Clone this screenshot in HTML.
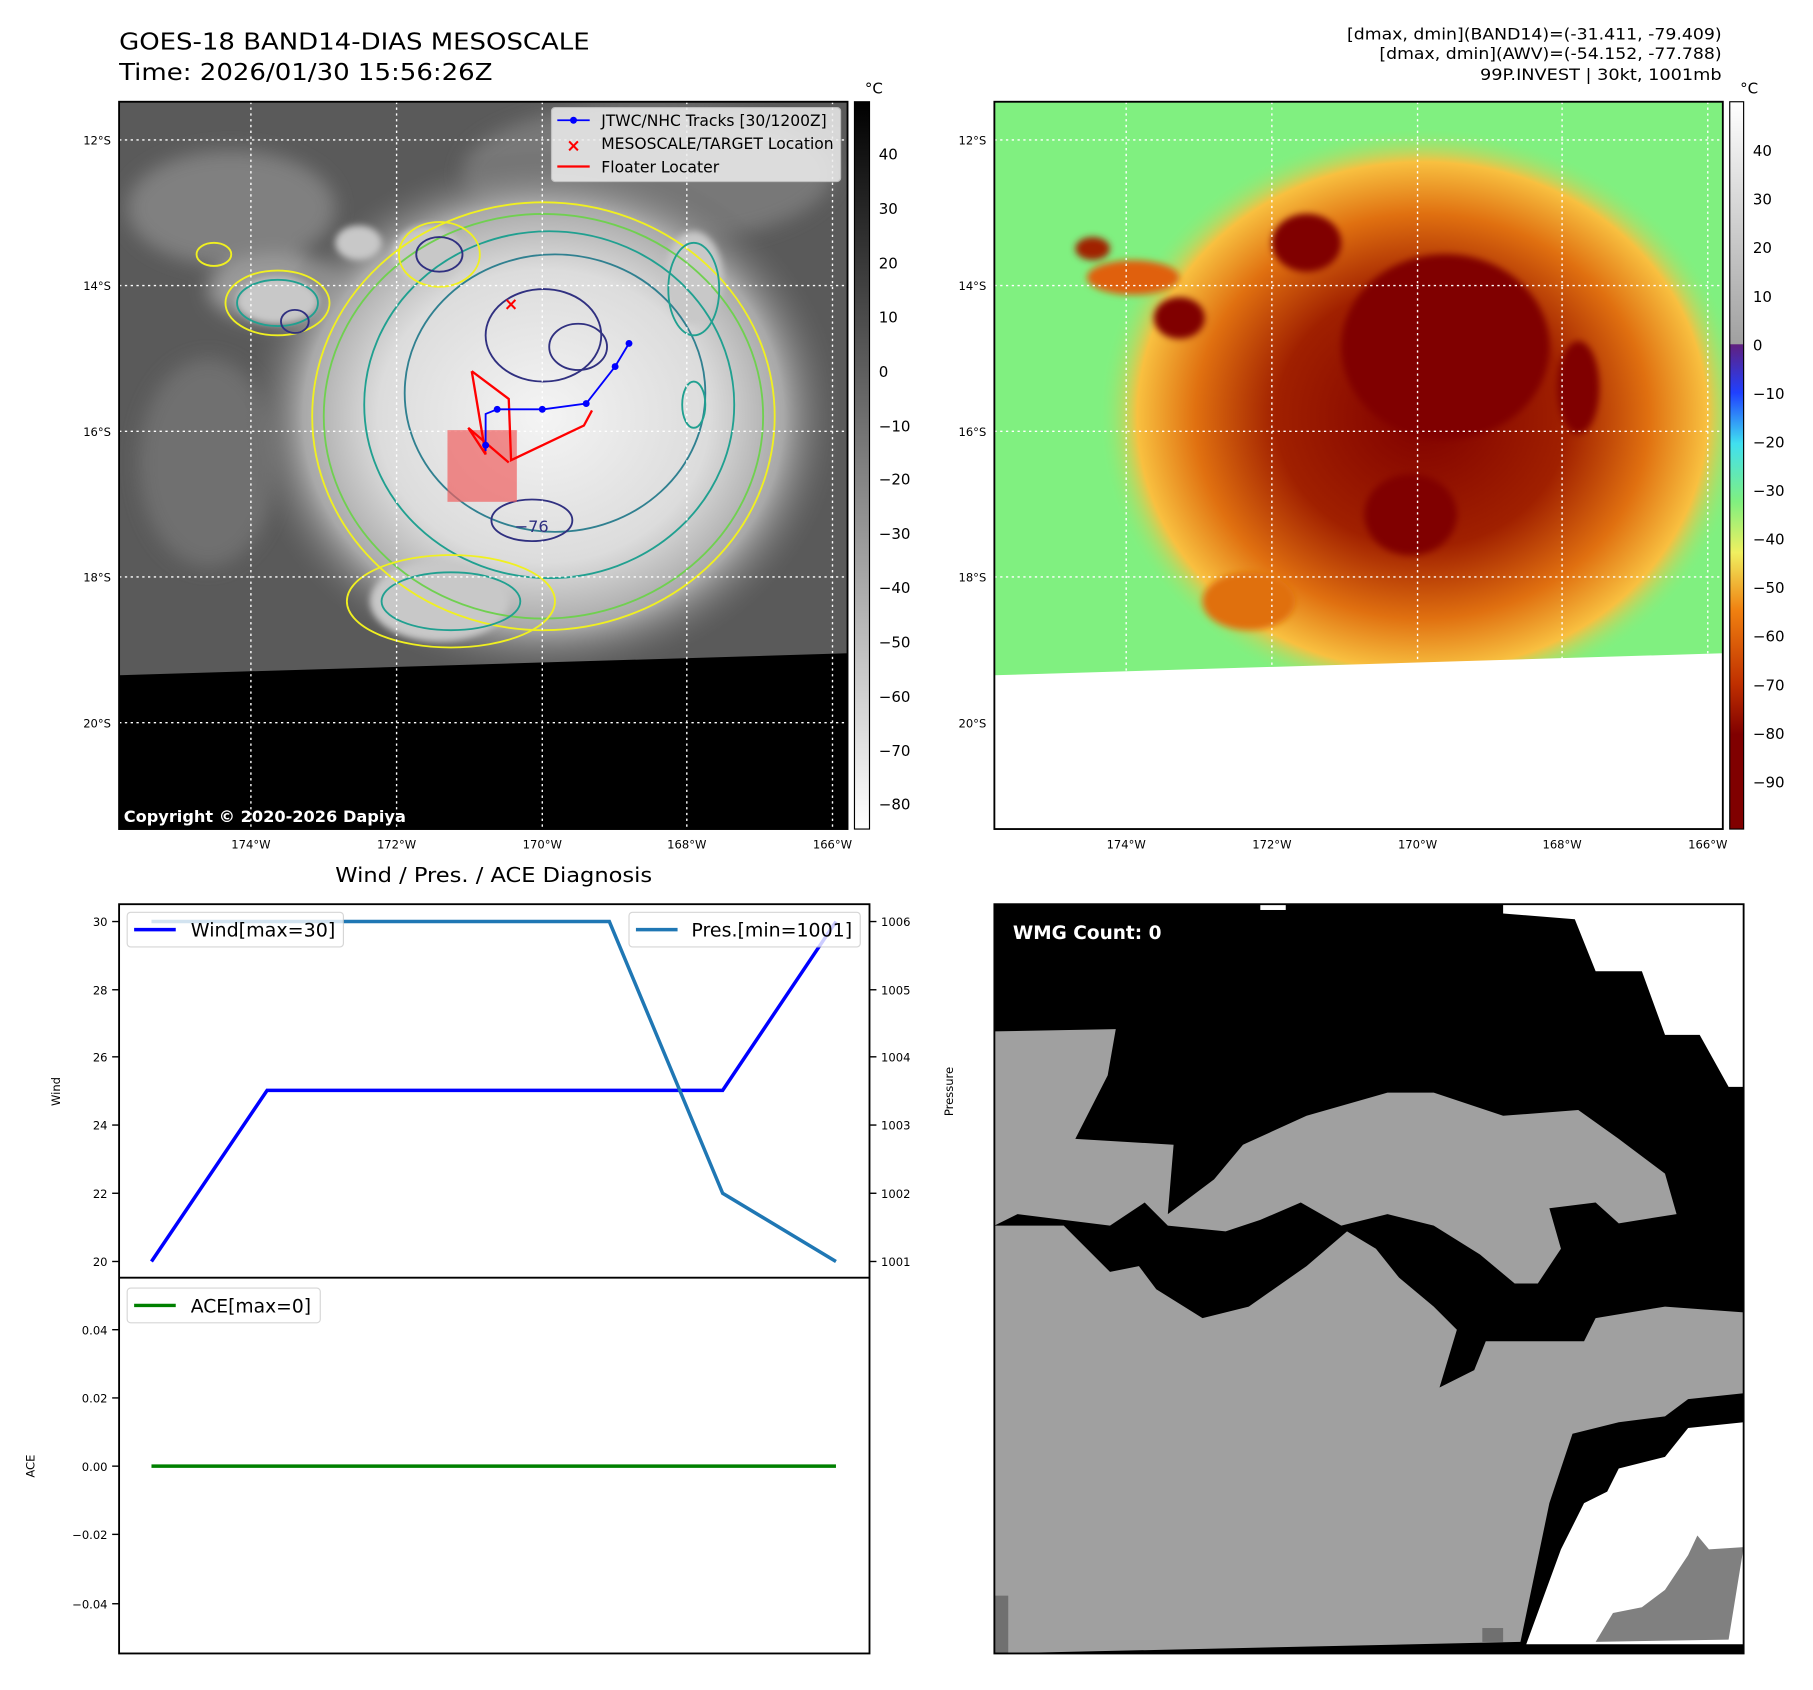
<!DOCTYPE html>
<html><head><meta charset="utf-8"><style>
html,body{margin:0;padding:0;background:#fff}
svg{display:block}
text{font-family:"DejaVu Sans","Liberation Sans",sans-serif}
</style></head><body>
<svg width="1813" height="1690" viewBox="0 0 1568 1461.6" preserveAspectRatio="none" xmlns="http://www.w3.org/2000/svg">
<defs>
<linearGradient id="cbg" x1="0" y1="0" x2="0" y2="1"><stop offset="0" stop-color="#000"/><stop offset="1" stop-color="#fff"/></linearGradient>
<linearGradient id="cbc" x1="0" y1="0" x2="0" y2="1">
<stop offset="0" stop-color="#fff"/><stop offset="0.333" stop-color="#a0a0a0"/>
<stop offset="0.334" stop-color="#602080"/><stop offset="0.40" stop-color="#2040ff"/>
<stop offset="0.47" stop-color="#40e0f0"/><stop offset="0.55" stop-color="#80f080"/>
<stop offset="0.62" stop-color="#f0f060"/><stop offset="0.70" stop-color="#f08010"/>
<stop offset="0.80" stop-color="#c03000"/><stop offset="0.87" stop-color="#800000"/><stop offset="1" stop-color="#800000"/></linearGradient>
<radialGradient id="cl" cx="0.5" cy="0.5" r="0.5"><stop offset="0" stop-color="#f4f4f4"/><stop offset="0.55" stop-color="#dcdcdc"/><stop offset="0.8" stop-color="#a8a8a8"/><stop offset="1" stop-color="#606060" stop-opacity="0"/></radialGradient>
<radialGradient id="co" cx="0.5" cy="0.5" r="0.5"><stop offset="0" stop-color="#800000"/><stop offset="0.45" stop-color="#a02000"/><stop offset="0.7" stop-color="#e07010"/><stop offset="0.88" stop-color="#f8c040"/><stop offset="1" stop-color="#80f080" stop-opacity="0"/></radialGradient>
<filter id="b3"><feGaussianBlur stdDeviation="3"/></filter>
<filter id="b8"><feGaussianBlur stdDeviation="8"/></filter>
<clipPath id="c1"><rect x="103" y="88" width="630" height="629"/></clipPath>
<clipPath id="c2"><rect x="860" y="88" width="630" height="629"/></clipPath>
</defs>

<!-- titles -->
<text x="103" y="43" font-size="20" textLength="407" lengthAdjust="spacingAndGlyphs">GOES-18 BAND14-DIAS MESOSCALE</text>
<text x="103" y="69" font-size="20" textLength="323" lengthAdjust="spacingAndGlyphs">Time: 2026/01/30 15:56:26Z</text>
<text x="1489" y="34" font-size="13.5" text-anchor="end" textLength="324" lengthAdjust="spacingAndGlyphs">[dmax, dmin](BAND14)=(-31.411, -79.409)</text>
<text x="1489" y="51" font-size="13.5" text-anchor="end" textLength="296" lengthAdjust="spacingAndGlyphs">[dmax, dmin](AWV)=(-54.152, -77.788)</text>
<text x="1489" y="69" font-size="13.5" text-anchor="end" textLength="209" lengthAdjust="spacingAndGlyphs">99P.INVEST | 30kt, 1001mb</text>

<!-- LEFT MAP -->
<g clip-path="url(#c1)">
<rect x="103" y="88" width="630" height="629" fill="#5a5a5a"/>
<g filter="url(#b8)">
<ellipse cx="200" cy="180" rx="90" ry="50" fill="#808080"/>
<ellipse cx="180" cy="400" rx="60" ry="90" fill="#707070"/>
<ellipse cx="560" cy="150" rx="160" ry="60" fill="#787878"/>
<ellipse cx="240" cy="250" rx="60" ry="30" fill="#9a9a9a"/>
</g>
<ellipse cx="470" cy="360" rx="260" ry="230" fill="url(#cl)"/>
<g filter="url(#b3)" fill="#c8c8c8">
<ellipse cx="370" cy="220" rx="30" ry="25"/><ellipse cx="310" cy="210" rx="20" ry="15"/>
<ellipse cx="240" cy="260" rx="35" ry="20"/><ellipse cx="600" cy="240" rx="25" ry="40"/>
<ellipse cx="380" cy="520" rx="60" ry="35"/>
</g>
<g fill="none" stroke-width="1.6">
<ellipse cx="470" cy="360" rx="200" ry="185" stroke="#f0f020"/>
<ellipse cx="470" cy="360" rx="190" ry="175" stroke="#70d050"/>
<ellipse cx="475" cy="350" rx="160" ry="150" stroke="#20a090"/>
<ellipse cx="480" cy="340" rx="130" ry="120" stroke="#308090"/>
<ellipse cx="240" cy="262" rx="45" ry="28" stroke="#f0f020"/>
<ellipse cx="240" cy="262" rx="35" ry="20" stroke="#20a090"/>
<ellipse cx="255" cy="278" rx="12" ry="10" stroke="#303080"/>
<ellipse cx="380" cy="220" rx="35" ry="28" stroke="#f0f020"/>
<ellipse cx="380" cy="220" rx="20" ry="15" stroke="#303080"/>
<ellipse cx="185" cy="220" rx="15" ry="10" stroke="#f0f020"/>
<ellipse cx="390" cy="520" rx="90" ry="40" stroke="#f0f020"/>
<ellipse cx="390" cy="520" rx="60" ry="25" stroke="#20a090"/>
<ellipse cx="600" cy="250" rx="22" ry="40" stroke="#20a090"/>
<ellipse cx="600" cy="350" rx="10" ry="20" stroke="#20a090"/>
<ellipse cx="470" cy="290" rx="50" ry="40" stroke="#303080"/>
<ellipse cx="460" cy="450" rx="35" ry="18" stroke="#303080"/>
<ellipse cx="500" cy="300" rx="25" ry="20" stroke="#303080"/>
</g>
<polygon points="103,584 733,565 733,717 103,717" fill="#000"/>
<g stroke="#fff" stroke-width="1.2" stroke-dasharray="2,3" fill="none">
<line x1="103" y1="121" x2="733" y2="121"/><line x1="103" y1="247" x2="733" y2="247"/>
<line x1="103" y1="373" x2="733" y2="373"/><line x1="103" y1="499" x2="733" y2="499"/>
<line x1="103" y1="625" x2="733" y2="625"/>
<line x1="217" y1="88" x2="217" y2="717"/><line x1="343" y1="88" x2="343" y2="717"/>
<line x1="469" y1="88" x2="469" y2="717"/><line x1="594" y1="88" x2="594" y2="717"/>
<line x1="720" y1="88" x2="720" y2="717"/>
</g>
<rect x="387" y="372" width="60" height="62" fill="#f06060" opacity="0.7"/>
<polyline points="408,321 440,345 442,398 505,368 512,355" fill="none" stroke="#f00" stroke-width="2"/>
<polyline points="408,321 420,393 405,370 440,400" fill="none" stroke="#f00" stroke-width="2"/>
<polyline points="420,390 420,358 430,354 470,354 507,349 532,317 544,297" fill="none" stroke="#00f" stroke-width="1.6"/>
<g fill="#00f"><circle cx="420" cy="385" r="3"/><circle cx="430" cy="354" r="3"/><circle cx="469" cy="354" r="3"/><circle cx="507" cy="349" r="3"/><circle cx="532" cy="317" r="3"/><circle cx="544" cy="297" r="3"/></g>
<text x="442" y="268" font-size="15" font-weight="bold" fill="#f00" text-anchor="middle">×</text>
<text x="445" y="460" font-size="14" fill="#303080">−76</text>
<text x="107" y="711" font-size="14" font-weight="bold" fill="#fff">Copyright © 2020-2026 Dapiya</text>
<!-- legend -->
<rect x="477" y="93" width="250" height="64" rx="3" fill="#eee" opacity="0.85" stroke="#ccc"/>
<line x1="482" y1="104" x2="510" y2="104" stroke="#00f" stroke-width="1.6"/><circle cx="496" cy="104" r="3" fill="#00f"/>
<text x="520" y="109" font-size="13.5" textLength="195" lengthAdjust="spacingAndGlyphs">JTWC/NHC Tracks [30/1200Z]</text>
<text x="496" y="131" font-size="15" font-weight="bold" fill="#f00" text-anchor="middle">×</text>
<text x="520" y="129" font-size="13.5" textLength="201" lengthAdjust="spacingAndGlyphs">MESOSCALE/TARGET Location</text>
<line x1="482" y1="144" x2="510" y2="144" stroke="#f00" stroke-width="2"/>
<text x="520" y="149" font-size="13.5" textLength="102" lengthAdjust="spacingAndGlyphs">Floater Locater</text>
</g>
<rect x="103" y="88" width="630" height="629" fill="none" stroke="#000" stroke-width="1.6"/>

<!-- RIGHT MAP -->
<g clip-path="url(#c2)">
<rect x="860" y="88" width="630" height="629" fill="#80f080"/>
<ellipse cx="1230" cy="360" rx="280" ry="250" fill="url(#co)"/>
<g filter="url(#b3)">
<ellipse cx="1250" cy="300" rx="90" ry="80" fill="#800000"/>
<ellipse cx="1220" cy="445" rx="40" ry="35" fill="#800000"/>
<ellipse cx="1365" cy="335" rx="18" ry="40" fill="#800000"/>
<ellipse cx="1130" cy="210" rx="30" ry="25" fill="#800000"/>
<ellipse cx="1020" cy="275" rx="22" ry="18" fill="#800000"/>
<ellipse cx="980" cy="240" rx="40" ry="15" fill="#e06010"/>
<ellipse cx="945" cy="215" rx="15" ry="10" fill="#a02000"/>
<ellipse cx="1080" cy="520" rx="40" ry="25" fill="#e07010"/>
</g>
<polygon points="860,584 1490,565 1490,717 860,717" fill="#fff"/>
<g stroke="#fff" stroke-width="1.2" stroke-dasharray="2,3" fill="none">
<line x1="860" y1="121" x2="1490" y2="121"/><line x1="860" y1="247" x2="1490" y2="247"/>
<line x1="860" y1="373" x2="1490" y2="373"/><line x1="860" y1="499" x2="1490" y2="499"/>
<line x1="974" y1="88" x2="974" y2="717"/><line x1="1100" y1="88" x2="1100" y2="717"/>
<line x1="1226" y1="88" x2="1226" y2="717"/><line x1="1351" y1="88" x2="1351" y2="717"/>
<line x1="1477" y1="88" x2="1477" y2="717"/>
</g>
</g>
<rect x="860" y="88" width="630" height="629" fill="none" stroke="#000" stroke-width="1.6"/>

<!-- colorbars -->
<rect x="739" y="88" width="13" height="629" fill="url(#cbg)" stroke="#000" stroke-width="1"/>
<rect x="1496" y="88" width="12" height="629" fill="url(#cbc)" stroke="#000" stroke-width="1"/>
<text x="748" y="81" font-size="13">°C</text><text x="1505" y="81" font-size="13">°C</text>
<g font-size="13">
<text x="760" y="138">40</text><text x="760" y="185">30</text><text x="760" y="232">20</text><text x="760" y="279">10</text><text x="760" y="326">0</text>
<text x="760" y="373">−10</text><text x="760" y="419">−20</text><text x="760" y="466">−30</text><text x="760" y="513">−40</text><text x="760" y="560">−50</text>
<text x="760" y="607">−60</text><text x="760" y="654">−70</text><text x="760" y="700">−80</text>
<text x="1516" y="135">40</text><text x="1516" y="177">30</text><text x="1516" y="219">20</text><text x="1516" y="261">10</text><text x="1516" y="303">0</text>
<text x="1516" y="345">−10</text><text x="1516" y="387">−20</text><text x="1516" y="429">−30</text><text x="1516" y="471">−40</text><text x="1516" y="513">−50</text>
<text x="1516" y="555">−60</text><text x="1516" y="597">−70</text><text x="1516" y="639">−80</text><text x="1516" y="681">−90</text>
</g>
<!-- map tick labels -->
<g font-size="10" text-anchor="end">
<text x="96" y="125">12°S</text><text x="96" y="251">14°S</text><text x="96" y="377">16°S</text><text x="96" y="503">18°S</text><text x="96" y="629">20°S</text>
<text x="853" y="125">12°S</text><text x="853" y="251">14°S</text><text x="853" y="377">16°S</text><text x="853" y="503">18°S</text><text x="853" y="629">20°S</text>
</g>
<g font-size="10" text-anchor="middle">
<text x="217" y="734">174°W</text><text x="343" y="734">172°W</text><text x="469" y="734">170°W</text><text x="594" y="734">168°W</text><text x="720" y="734">166°W</text>
<text x="974" y="734">174°W</text><text x="1100" y="734">172°W</text><text x="1226" y="734">170°W</text><text x="1351" y="734">168°W</text><text x="1477" y="734">166°W</text>
</g>

<!-- BOTTOM LEFT CHART -->
<text x="427" y="763" font-size="18" text-anchor="middle" textLength="274" lengthAdjust="spacingAndGlyphs">Wind / Pres. / ACE Diagnosis</text>
<rect x="103" y="782" width="649" height="648" fill="#fff" stroke="#000" stroke-width="1.6"/>
<line x1="103" y1="1105" x2="752" y2="1105" stroke="#000" stroke-width="1.6"/>
<g stroke="#000" stroke-width="1.2">
<line x1="97" y1="797" x2="103" y2="797"/><line x1="97" y1="856" x2="103" y2="856"/><line x1="97" y1="914" x2="103" y2="914"/>
<line x1="97" y1="973" x2="103" y2="973"/><line x1="97" y1="1032" x2="103" y2="1032"/><line x1="97" y1="1091" x2="103" y2="1091"/>
<line x1="752" y1="797" x2="758" y2="797"/><line x1="752" y1="856" x2="758" y2="856"/><line x1="752" y1="914" x2="758" y2="914"/>
<line x1="752" y1="973" x2="758" y2="973"/><line x1="752" y1="1032" x2="758" y2="1032"/><line x1="752" y1="1091" x2="758" y2="1091"/>
<line x1="97" y1="1150" x2="103" y2="1150"/><line x1="97" y1="1209" x2="103" y2="1209"/><line x1="97" y1="1268" x2="103" y2="1268"/>
<line x1="97" y1="1327" x2="103" y2="1327"/><line x1="97" y1="1387" x2="103" y2="1387"/>
</g>
<g font-size="10" text-anchor="end">
<text x="93" y="801">30</text><text x="93" y="860">28</text><text x="93" y="918">26</text><text x="93" y="977">24</text><text x="93" y="1036">22</text><text x="93" y="1095">20</text>
<text x="93" y="1154">0.04</text><text x="93" y="1213">0.02</text><text x="93" y="1272">0.00</text><text x="93" y="1331">−0.02</text><text x="93" y="1391">−0.04</text>
</g>
<g font-size="10">
<text x="762" y="801">1006</text><text x="762" y="860">1005</text><text x="762" y="918">1004</text><text x="762" y="977">1003</text><text x="762" y="1036">1002</text><text x="762" y="1095">1001</text>
</g>
<text transform="translate(52,944) rotate(-90)" font-size="10" text-anchor="middle">Wind</text>
<text transform="translate(824,944) rotate(-90)" font-size="10" text-anchor="middle">Pressure</text>
<text transform="translate(30,1268) rotate(-90)" font-size="10" text-anchor="middle">ACE</text>
<polyline points="131,1091 231,943 625,943 723,797" fill="none" stroke="#00f" stroke-width="3"/>
<polyline points="131,797 527,797 625,1032 723,1091" fill="none" stroke="#1f77b4" stroke-width="3"/>
<line x1="131" y1="1268" x2="723" y2="1268" stroke="#008000" stroke-width="3"/>
<rect x="110" y="789" width="187" height="30" rx="3" fill="#fff" opacity="0.8" stroke="#ccc"/>
<line x1="116" y1="804" x2="152" y2="804" stroke="#00f" stroke-width="3"/>
<text x="165" y="810" font-size="16" textLength="125" lengthAdjust="spacingAndGlyphs">Wind[max=30]</text>
<rect x="544" y="789" width="200" height="30" rx="3" fill="#fff" opacity="0.8" stroke="#ccc"/>
<line x1="550" y1="804" x2="586" y2="804" stroke="#1f77b4" stroke-width="3"/>
<text x="598" y="810" font-size="16" textLength="139" lengthAdjust="spacingAndGlyphs">Pres.[min=1001]</text>
<rect x="110" y="1114" width="167" height="30" rx="3" fill="#fff" opacity="0.8" stroke="#ccc"/>
<line x1="116" y1="1129" x2="152" y2="1129" stroke="#008000" stroke-width="3"/>
<text x="165" y="1135" font-size="16" textLength="104" lengthAdjust="spacingAndGlyphs">ACE[max=0]</text>

<!-- BOTTOM RIGHT -->
<rect x="860" y="782" width="648" height="648" fill="#000"/>
<polygon points="1300,782 1508,782 1508,940 1495,940 1470,895 1440,895 1420,840 1380,840 1362,795 1300,790" fill="#fff"/>
<rect x="1090" y="782" width="22" height="5" fill="#fff"/>
<polygon points="860,892 965,890 958,930 930,985 1015,990 1010,1050 1050,1020 1075,990 1130,965 1200,945 1240,945 1300,965 1365,960 1400,985 1440,1015 1450,1050 1400,1058 1380,1040 1340,1045 1350,1080 1330,1110 1310,1110 1280,1085 1240,1060 1200,1050 1160,1060 1125,1040 1090,1055 1060,1065 1010,1060 990,1040 960,1060 880,1050 860,1060" fill="#a0a0a0"/>
<polygon points="860,1060 920,1060 960,1100 985,1095 1000,1115 1040,1140 1080,1130 1130,1095 1165,1065 1190,1080 1210,1105 1240,1130 1260,1150 1245,1200 1275,1185 1285,1160 1350,1160 1370,1160 1380,1140 1440,1130 1508,1135 1508,1205 1460,1210 1440,1225 1400,1230 1360,1240 1340,1300 1315,1420 860,1430" fill="#a0a0a0"/>
<polygon points="1320,1422 1350,1340 1370,1300 1390,1290 1400,1270 1440,1260 1460,1235 1508,1230 1508,1422" fill="#fff"/>
<polygon points="1380,1420 1395,1395 1420,1390 1440,1375 1460,1345 1468,1328 1478,1340 1508,1338 1495,1418" fill="#808080"/>
<rect x="1282" y="1408" width="18" height="12" fill="#707070"/>
<rect x="860" y="1380" width="12" height="50" fill="#707070"/>
<rect x="860" y="782" width="648" height="648" fill="none" stroke="#000" stroke-width="1.6"/>
<text x="876" y="812" font-size="16" font-weight="bold" fill="#fff">WMG Count: 0</text>
</svg>
</body></html>
